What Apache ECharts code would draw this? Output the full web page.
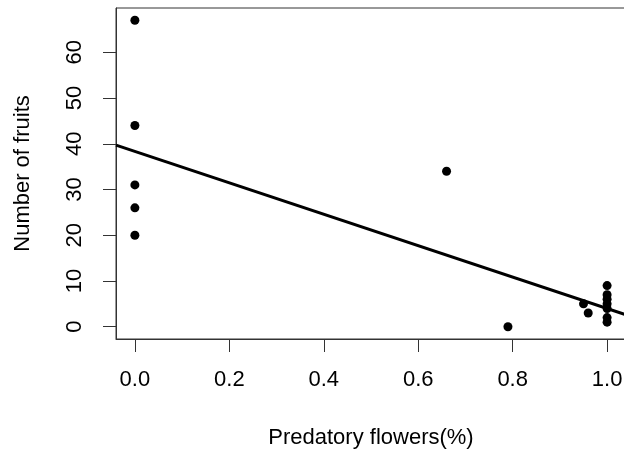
<!DOCTYPE html>
<html>
<head>
<meta charset="utf-8">
<script src="https://cdn.jsdelivr.net/npm/echarts@6/dist/echarts.min.js"></script>
<style>
  html, body { margin: 0; padding: 0; background: #fff; }
  #chart { width: 624px; height: 449px; }
</style>
</head>
<body>
<div id="chart"></div>
<script>
// observed points (predatory flowers share, number of fruits)
const flowerShare = [0, 0, 0, 0, 0, 0.66, 0.79, 0.95, 0.96, 1, 1, 1, 1, 1, 1, 1]
const fruitCount = [67, 44, 31, 26, 20, 34, 0, 5, 3, 9, 7, 6, 5, 4, 2, 1]

// fitted line, read at the two edges of the plot region
const fitX = [-0.04, 1.04]
const fitY = [39.7, 2.6]

const xTicks = [0, 0.2, 0.4, 0.6, 0.8, 1.0]
const yTicks = [0, 10, 20, 30, 40, 50, 60]

const points = flowerShare.map((x, i) => [x, fruitCount[i]])
const fitLine = fitX.map((x, i) => [x, fitY[i]])

const tickFont = {
    fontFamily: 'Liberation Sans, Arial, sans-serif',
    fontSize: 22,
    color: '#000'
}
const nameFont = { ...tickFont, fontSize: 22 }

const chart = echarts.init(document.getElementById('chart'), null, { renderer: 'canvas' })

chart.setOption({
    animation: false,
    backgroundColor: '#fff',
    grid: {
        left: 116,
        top: 8,
        right: -2,
        bottom: 110,
        containLabel: false,
        outerBoundsMode: 'none',
        show: true,
        borderColor: '#333',
        borderWidth: 1,
        backgroundColor: 'transparent'
    },
    xAxis: {
        type: 'value',
        min: -0.04,
        max: 1.04,
        name: 'Predatory flowers(%)',
        nameLocation: 'middle',
        nameGap: 88,
        nameTextStyle: nameFont,
        axisLine: { show: true, onZero: false, lineStyle: { color: '#333', width: 1 } },
        axisTick: {
            show: true,
            inside: false,
            length: 13,
            customValues: xTicks,
            lineStyle: { color: '#333', width: 1 }
        },
        axisLabel: {
            ...tickFont,
            margin: 30,
            customValues: xTicks,
            formatter: v => v.toFixed(1)
        },
        splitLine: { show: false }
    },
    yAxis: {
        type: 'value',
        min: -2.68,
        max: 69.68,
        name: 'Number of fruits',
        nameLocation: 'middle',
        nameGap: 82,
        nameRotate: 90,
        nameTextStyle: nameFont,
        axisLine: { show: true, onZero: false, lineStyle: { color: '#333', width: 1 } },
        axisTick: {
            show: true,
            inside: false,
            length: 13,
            customValues: yTicks,
            lineStyle: { color: '#333', width: 1 }
        },
        axisLabel: {
            ...tickFont,
            rotate: 90,
            margin: 30,
            customValues: yTicks
        },
        splitLine: { show: false }
    },
    series: [
        {
            name: 'fruits',
            type: 'scatter',
            data: points,
            symbol: 'circle',
            symbolSize: 9,
            itemStyle: { color: '#000', opacity: 1 }
        },
        {
            name: 'fit',
            type: 'line',
            data: fitLine,
            showSymbol: false,
            symbol: 'none',
            clip: true,
            lineStyle: { color: '#000', width: 3 }
        }
    ]
})
</script>
</body>
</html>
